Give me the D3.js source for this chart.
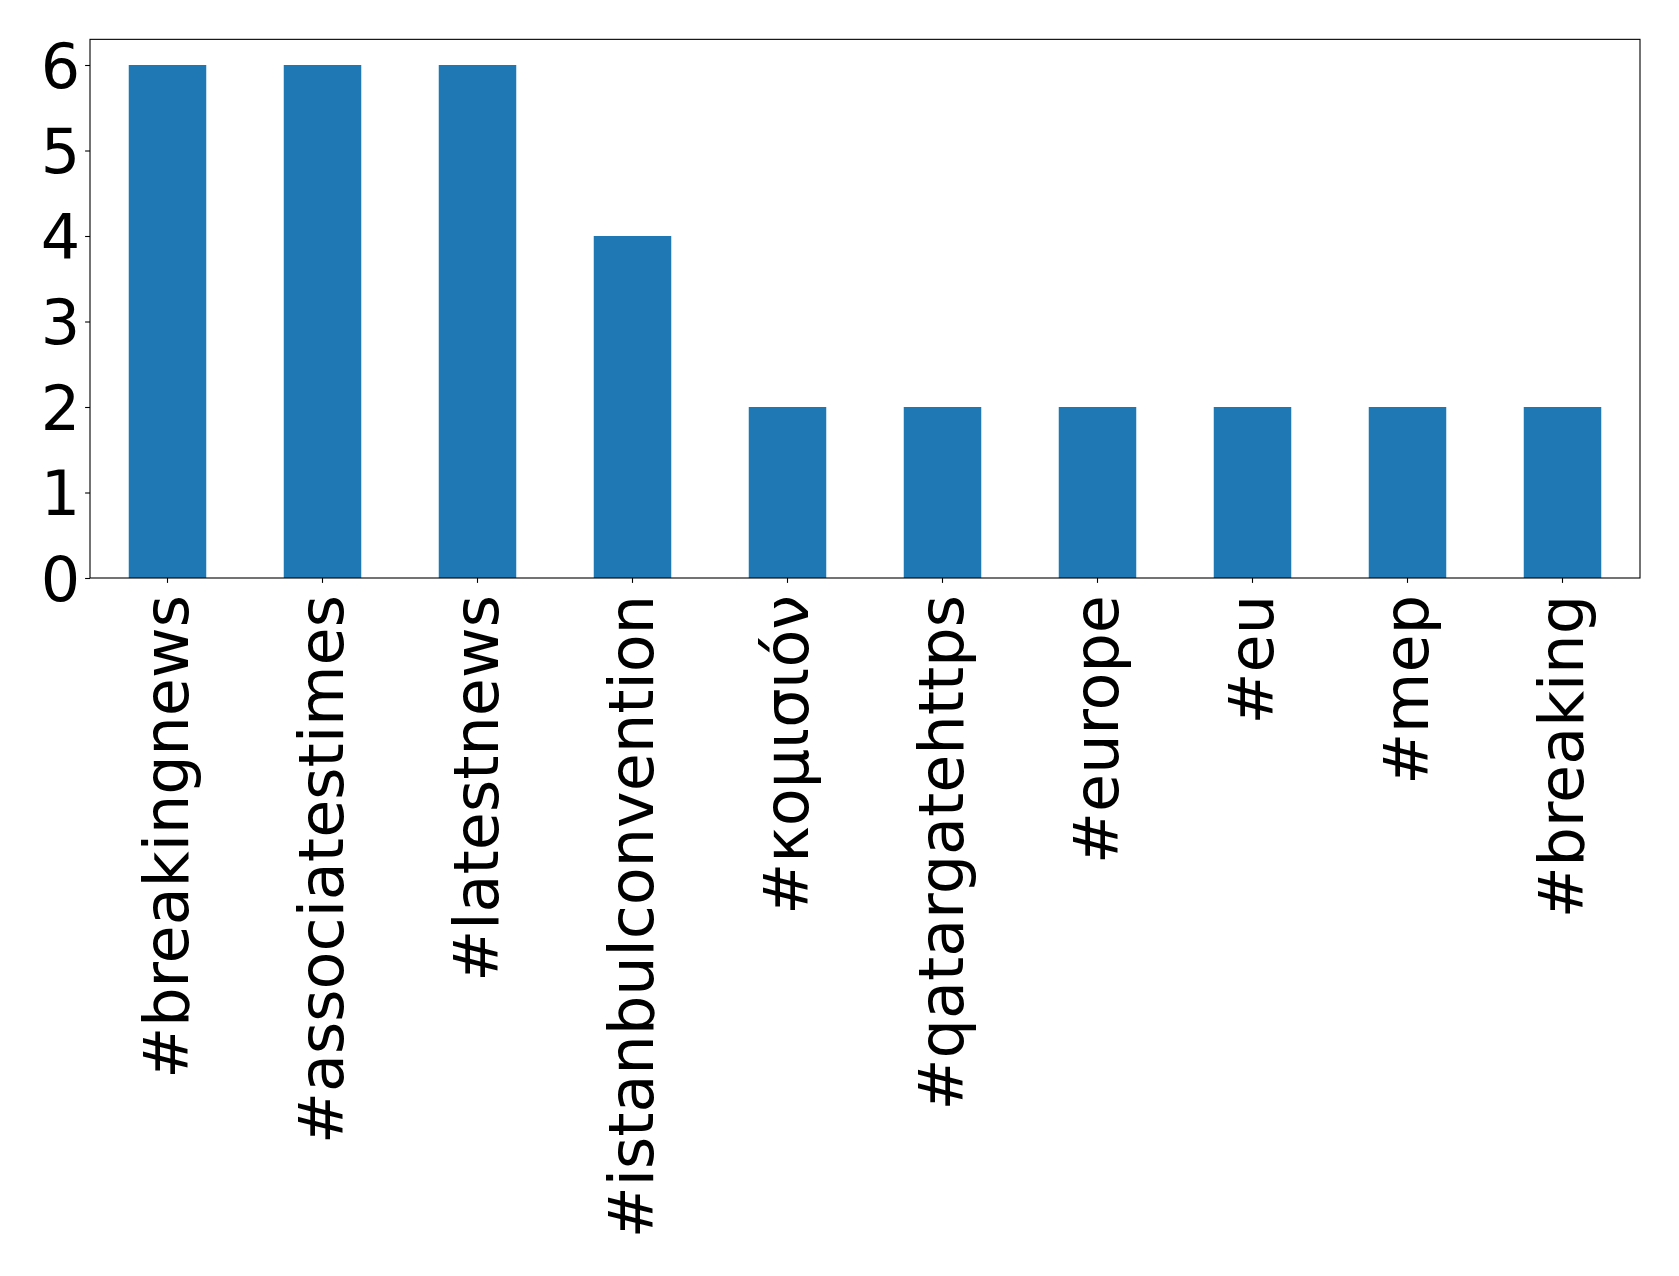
<!DOCTYPE html>
<html>
<head>
<meta charset="utf-8">
<script src="https://cdn.jsdelivr.net/npm/d3@7"></script>
<style>
  html, body { margin: 0; padding: 0; background: #fff; }
  svg { display: block; }
  text { font-family: "DejaVu Sans", sans-serif; fill: #000; }
</style>
</head>
<body>
<svg id="chart" width="1679" height="1276"></svg>
<script>
const categories = ["#breakingnews", "#associatestimes", "#latestnews", "#istanbulconvention", "#κομισιόν", "#qatargatehttps", "#europe", "#eu", "#mep", "#breaking"];
const counts = [6, 6, 6, 4, 2, 2, 2, 2, 2, 2];
const yTicks = [0, 1, 2, 3, 4, 5, 6];

const W = 1679, H = 1276;
const m = { left: 90, right: 1640, top: 39.35, bottom: 578 };
const svg = d3.select("#chart");

const x = d3.scaleBand().domain(categories).range([m.left, m.right]).paddingInner(0.5).paddingOuter(0.25);
const y = d3.scaleLinear().domain([0, 6.3]).range([m.bottom, m.top]);

svg.append("g").selectAll("rect").data(categories).join("rect")
  .attr("x", d => x(d))
  .attr("width", x.bandwidth())
  .attr("y", (d, i) => y(counts[i]))
  .attr("height", (d, i) => y(0) - y(counts[i]))
  .attr("fill", "#1f77b4");

// frame
svg.append("rect")
  .attr("x", m.left).attr("y", m.top)
  .attr("width", m.right - m.left).attr("height", m.bottom - m.top)
  .attr("fill", "none").attr("stroke", "#000").attr("stroke-width", 1.1);

const yAxis = svg.append("g").attr("transform", `translate(${m.left},0)`)
  .call(d3.axisLeft(y).tickValues(yTicks).tickFormat(d3.format("d")).tickSize(4.9).tickPadding(4.9));
yAxis.select(".domain").remove();
yAxis.selectAll("line").attr("stroke", "#000").attr("stroke-width", 1.1);
yAxis.selectAll("text").attr("font-size", 62).attr("font-family", "DejaVu Sans, sans-serif").attr("dy", "0.36em");

const xAxis = svg.append("g").attr("transform", `translate(0,${m.bottom})`)
  .call(d3.axisBottom(x).tickSize(4.9).tickPadding(0));
xAxis.select(".domain").remove();
xAxis.selectAll("line").attr("stroke", "#000").attr("stroke-width", 1.1);
xAxis.selectAll("text")
  .attr("font-size", 62)
  .attr("font-family", "DejaVu Sans, sans-serif")
  .attr("text-anchor", "end")
  .attr("y", 0)
  .attr("x", 0)
  .attr("dy", "0.33em")
  .attr("transform", "translate(0,17) rotate(-90)");
</script>
</body>
</html>
